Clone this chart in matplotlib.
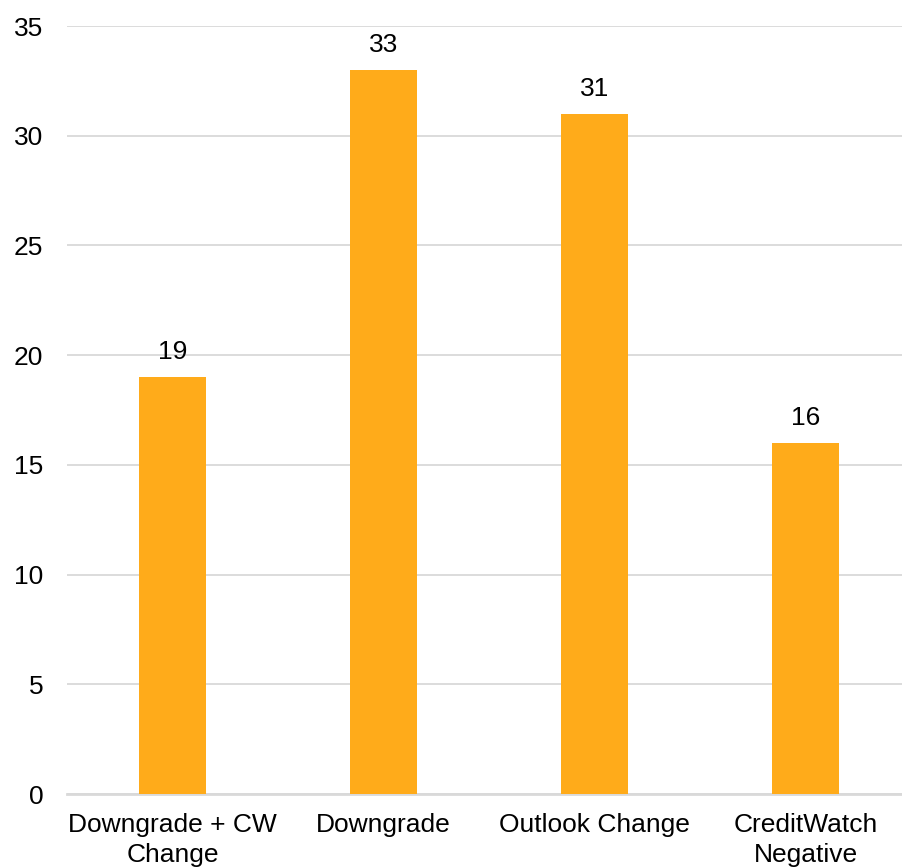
import matplotlib.pyplot as plt
import numpy as np

# datos
categorias = ["Downgrade + CW\nChange", "Downgrade", "Outlook Change", "CreditWatch\nNegative"]
valores = [19, 33, 31, 16]
yticks = [0, 5, 10, 15, 20, 25, 30, 35]

plt.rcParams['font.family'] = ['Liberation Sans', 'DejaVu Sans']

fig = plt.figure(figsize=(9.03, 8.67), dpi=100)
# ejes colocados a mano para coincidir con la imagen
ax = fig.add_axes([67/903, 1 - 794/867, 1 - 67/903, 768/867])

x = np.arange(len(categorias))
ax.bar(x, valores, width=0.317, color="#FFAB1A", zorder=3)

for xi, v in zip(x, valores):
    ax.text(xi, v + 0.6, str(v), ha="center", va="bottom", fontsize=19)

ax.set_xlim(-0.5, 3.46)
ax.set_ylim(0, 35)
ax.set_yticks(yticks)
ax.set_xticks(x)
ax.set_xticklabels(categorias, fontsize=19, linespacing=1.3)
ax.tick_params(axis="y", labelsize=19, length=0, pad=17)
ax.tick_params(axis="x", length=0, pad=14)

ax.grid(axis="y", color="#D9D9D9", linewidth=1.3, zorder=0)
for s in ["top", "right", "left"]:
    ax.spines[s].set_visible(False)
ax.spines["bottom"].set_color("#D9D9D9")
ax.spines["bottom"].set_linewidth(2)

fig.savefig("out.png", dpi=100)
